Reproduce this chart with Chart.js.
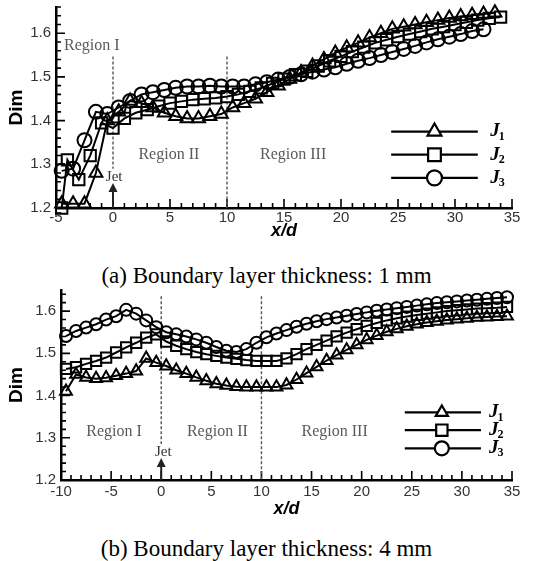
<!DOCTYPE html>
<html>
<head>
<meta charset="utf-8">
<script src="https://cdn.jsdelivr.net/npm/chart.js@4.4.0/dist/chart.umd.min.js"></script>
<style>
  body { margin: 0; background: #fff; width: 533px; height: 561px; position: relative; overflow: hidden; }
  canvas { position: absolute; left: 0; }
  .caption { position: absolute; left: 0; width: 533px; text-align: center; line-height: 24px;
             font-family: "Liberation Serif", "Times New Roman", serif; font-size: 23px; color: #000; }
</style>
</head>
<body>
<canvas id="chartA" width="533" height="248" style="top:0"></canvas>
<div class="caption" style="top:264px">(a) Boundary layer thickness: 1 mm</div>
<canvas id="chartB" width="533" height="240" style="top:283px"></canvas>
<div class="caption" style="top:537px">(b) Boundary layer thickness: 4 mm</div>
<script>
// ---- (a) 1 mm boundary layer ----
const topX = [-4.5, -3.5, -2.5, -1.5, -0.5, 0.5, 1.5, 2.5, 3.5, 4.5, 5.5, 6.5, 7.5, 8.5, 9.5,
  10.5, 11.5, 12.5, 13.5, 14.5, 15.5, 16.5, 17.5, 18.5, 19.5, 20.5, 21.5, 22.5, 23.5, 24.5,
  25.5, 26.5, 27.5, 28.5, 29.5, 30.5, 31.5, 32.5, 33.5];
const topJ1 = [1.21, 1.21, 1.21, 1.28, 1.40, 1.42, 1.445, 1.44, 1.43, 1.418, 1.41, 1.405, 1.405,
  1.41, 1.415, 1.43, 1.44, 1.45, 1.465, 1.48, 1.495, 1.51, 1.525, 1.54, 1.555, 1.567, 1.578,
  1.59, 1.60, 1.61, 1.615, 1.62, 1.625, 1.63, 1.635, 1.638, 1.641, 1.644, 1.647];
const topJ2X = [-4.5, -4, -3, -2, -1, 0, 1, 2, 3, 4, 5, 6, 7, 8, 9, 10, 11, 12, 13, 14, 15, 16,
  17, 18, 19, 20, 21, 22, 23, 24, 25, 26, 27, 28, 29, 30, 31, 32, 33, 34];
const topJ2 = [1.20, 1.31, 1.265, 1.32, 1.395, 1.383, 1.405, 1.418, 1.425, 1.433, 1.44, 1.444,
  1.448, 1.45, 1.452, 1.455, 1.46, 1.467, 1.475, 1.485, 1.495, 1.505, 1.513, 1.525, 1.537,
  1.547, 1.558, 1.568, 1.578, 1.585, 1.592, 1.598, 1.604, 1.61, 1.615, 1.62, 1.625, 1.63,
  1.634, 1.637];
const topJ3 = [1.285, 1.29, 1.355, 1.42, 1.415, 1.43, 1.445, 1.46, 1.465, 1.47, 1.475, 1.478,
  1.478, 1.48, 1.478, 1.478, 1.478, 1.483, 1.488, 1.494, 1.50, 1.506, 1.512, 1.517, 1.522,
  1.53, 1.537, 1.543, 1.55, 1.557, 1.564, 1.571, 1.579, 1.586, 1.592, 1.598, 1.605, 1.609];
const topXTicks = [-5, 0, 5, 10, 15, 20, 25, 30, 35];
const topYTicks = [1.2, 1.3, 1.4, 1.5, 1.6];

// ---- (b) 4 mm boundary layer ----
const bottomX = [-9.5, -8.5, -7.5, -6.5, -5.5, -4.5, -3.5, -2.5, -1.5, -0.5, 0.5, 1.5, 2.5,
  3.5, 4.5, 5.5, 6.5, 7.5, 8.5, 9.5, 10.5, 11.5, 12.5, 13.5, 14.5, 15.5, 16.5, 17.5, 18.5,
  19.5, 20.5, 21.5, 22.5, 23.5, 24.5, 25.5, 26.5, 27.5, 28.5, 29.5, 30.5, 31.5, 32.5, 33.5, 34.5];
const bottomJ1 = [1.41, 1.45, 1.443, 1.44, 1.442, 1.447, 1.452, 1.458, 1.488, 1.478,
  1.47, 1.46, 1.452, 1.443, 1.435, 1.428, 1.424, 1.421, 1.42, 1.42,
  1.42, 1.42, 1.425, 1.438, 1.453, 1.468, 1.483, 1.496, 1.508, 1.52,
  1.532, 1.542, 1.551, 1.558, 1.564, 1.569, 1.573, 1.576, 1.579, 1.581,
  1.583, 1.585, 1.586, 1.587, 1.588];
const bottomJ2 = [1.463, 1.467, 1.475, 1.482, 1.49, 1.502, 1.514, 1.525, 1.537, 1.545,
  1.528, 1.518, 1.51, 1.503, 1.498, 1.494, 1.49, 1.487, 1.484, 1.482,
  1.482, 1.482, 1.488, 1.498, 1.51, 1.52, 1.53, 1.54, 1.549, 1.557,
  1.565, 1.572, 1.578, 1.583, 1.587, 1.591, 1.594, 1.597, 1.6, 1.602,
  1.604, 1.606, 1.607, 1.608, 1.61];
const bottomJ3 = [1.541, 1.553, 1.561, 1.569, 1.58, 1.588, 1.603, 1.594, 1.578, 1.562,
  1.55, 1.545, 1.54, 1.533, 1.525, 1.515, 1.506, 1.503, 1.51, 1.525,
  1.538, 1.547, 1.555, 1.563, 1.57, 1.576, 1.581, 1.585, 1.589, 1.593,
  1.597, 1.601, 1.604, 1.607, 1.61, 1.613, 1.616, 1.619, 1.621, 1.623,
  1.625, 1.627, 1.629, 1.631, 1.633];
const bottomXTicks = [-10, -5, 0, 5, 10, 15, 20, 25, 30, 35];
const bottomYTicks = [1.2, 1.3, 1.4, 1.5, 1.6];

const seriesNames = ['J1', 'J2', 'J3'];
const shapes = ['triangle', 'rect', 'circle'];

const sans = '"Liberation Sans", Arial, sans-serif';
const serif = '"Liberation Serif", "Times New Roman", serif';

// inward ticks, region dividers, labels, jet arrow and the legend
const framePlugin = {
  id: 'frame',
  beforeDatasetsDraw(chart, args, f) {
    const { ctx, chartArea: a, scales: { x, y } } = chart;
    ctx.save();
    ctx.strokeStyle = '#000';
    ctx.lineWidth = 1.6;
    ctx.beginPath();
    for (let i = 0; x.min + i <= x.max; i++) {
      const v = x.min + i;
      const px = x.getPixelForValue(v);
      ctx.moveTo(px, a.bottom);
      ctx.lineTo(px, a.bottom - (v % 5 === 0 ? 9 : 5));
    }
    for (let i = 0; y.min + i * 0.02 <= y.max + 1e-9; i++) {
      const py = y.getPixelForValue(y.min + i * 0.02);
      ctx.moveTo(a.left, py);
      ctx.lineTo(a.left + (i % 5 === 0 ? 9 : 5), py);
    }
    ctx.stroke();

    ctx.strokeStyle = '#555';
    ctx.lineWidth = 1.4;
    ctx.setLineDash([3, 2]);
    f.dividers.forEach(d => {
      const px = x.getPixelForValue(d.x);
      ctx.beginPath();
      ctx.moveTo(px, y.getPixelForValue(d.from));
      ctx.lineTo(px, y.getPixelForValue(d.to));
      ctx.stroke();
    });
    ctx.setLineDash([]);

    ctx.fillStyle = '#5a5a5a';
    ctx.font = '16px ' + serif;
    ctx.textBaseline = 'middle';
    f.regions.forEach(r => {
      ctx.textAlign = r.align;
      ctx.fillText(r.text, x.getPixelForValue(r.x), y.getPixelForValue(r.y));
    });

    // jet inlet marker
    const jx = x.getPixelForValue(0);
    const tip = y.getPixelForValue(f.jet.tip);
    ctx.fillStyle = '#333';
    ctx.font = '15px ' + serif;
    ctx.textAlign = 'center';
    ctx.fillText('Jet', x.getPixelForValue(f.jet.textX), y.getPixelForValue(f.jet.textY));
    ctx.strokeStyle = '#222';
    ctx.lineWidth = 2;
    ctx.beginPath();
    ctx.moveTo(jx, a.bottom);
    ctx.lineTo(jx, tip + 6);
    ctx.stroke();
    ctx.fillStyle = '#222';
    ctx.beginPath();
    ctx.moveTo(jx, tip);
    ctx.lineTo(jx - 4.5, tip + 9);
    ctx.lineTo(jx + 4.5, tip + 9);
    ctx.closePath();
    ctx.fill();
    ctx.restore();
  },
  afterDatasetsDraw(chart, args, f) {
    const { ctx, scales: { x, y } } = chart;
    const lg = f.legend;
    ctx.save();
    chart.data.datasets.forEach((ds, i) => {
      const py = y.getPixelForValue(lg.rows[i]);
      ctx.strokeStyle = '#000';
      ctx.lineWidth = 2.2;
      ctx.beginPath();
      ctx.moveTo(x.getPixelForValue(lg.x0), py);
      ctx.lineTo(x.getPixelForValue(lg.x1), py);
      ctx.stroke();
      ctx.fillStyle = '#fff';
      ctx.lineWidth = 2.2;
      Chart.helpers.drawPoint(ctx, { pointStyle: ds.pointStyle, radius: lg.r[i], rotation: 0, borderWidth: 2.2 },
        x.getPixelForValue(lg.xm), py);
      const tx = x.getPixelForValue(lg.xt);
      ctx.fillStyle = '#000';
      ctx.textAlign = 'left';
      ctx.textBaseline = 'middle';
      ctx.font = 'italic bold 19px ' + serif;
      ctx.fillText('J', tx, py);
      const w = ctx.measureText('J').width;
      ctx.font = 'bold 12px ' + serif;
      ctx.fillText(ds.label.slice(1), tx + w - 1, py + 5);
    });
    ctx.restore();
  }
};

function buildChart(id, spec) {
  const datasets = spec.series.map((ys, i) => ({
    label: seriesNames[i],
    data: ys.map((v, k) => ({ x: spec.xs[i][k], y: v })),
    showLine: true,
    borderColor: '#000',
    borderWidth: 2,
    pointStyle: shapes[i],
    pointRadius: spec.radius[i],
    pointHoverRadius: spec.radius[i],
    pointBorderColor: '#000',
    pointBorderWidth: 2,
    pointBackgroundColor: 'rgba(255,255,255,0)',
    clip: false
  }));
  return new Chart(document.getElementById(id), {
    type: 'scatter',
    data: { datasets },
    options: {
      responsive: false,
      animation: false,
      devicePixelRatio: 1,
      events: [],
      layout: { autoPadding: false, padding: { left: 0, right: 21, top: 7, bottom: 0 } },
      plugins: { legend: { display: false }, tooltip: { enabled: false }, frame: spec.frame },
      scales: {
        x: {
          type: 'linear', min: spec.xMin, max: spec.xMax,
          afterBuildTicks: sc => { sc.ticks = spec.xTicks.map(v => ({ value: v })); },
          afterFit: sc => { sc.height = spec.xAxisHeight; sc.paddingLeft = 0; sc.paddingRight = 0; },
          grid: { display: false, drawTicks: false },
          border: { display: true, color: '#000', width: 2.5 },
          ticks: { color: '#333', font: { family: sans, size: 15 }, padding: spec.xLabelPad,
                   maxRotation: 0, autoSkip: false, callback: v => String(v) },
          title: { display: true, text: 'x/d', color: '#000',
                   font: { family: sans, size: 18, weight: 'bold', style: 'italic' },
                   padding: { top: 0, bottom: spec.xTitlePad } }
        },
        y: {
          type: 'linear', min: spec.yMin, max: spec.yMax,
          afterBuildTicks: sc => { sc.ticks = spec.yTicks.map(v => ({ value: v })); },
          afterFit: sc => { sc.width = spec.yAxisWidth; sc.paddingTop = 0; sc.paddingBottom = 0; },
          grid: { display: false, drawTicks: false },
          border: { display: true, color: '#000', width: 2.5 },
          ticks: { color: '#333', font: { family: sans, size: 15 }, padding: 5,
                   callback: v => v.toFixed(1) },
          title: { display: true, text: 'Dim', color: '#000',
                   font: { family: sans, size: 19, weight: 'bold' },
                   padding: { top: 5, bottom: 0 } }
        }
      }
    },
    plugins: [framePlugin]
  });
}

buildChart('chartA', {
  xs: [topX, topJ2X, topX],
  series: [topJ1, topJ2, topJ3],
  radius: [7.5, 8, 7],
  xMin: -5, xMax: 35, yMin: 1.2, yMax: 1.66,
  xTicks: topXTicks, yTicks: topYTicks,
  yAxisWidth: 56, xAxisHeight: 40, xLabelPad: 1, xTitlePad: 6,
  frame: {
    dividers: [{ x: 0, from: 1.547, to: 1.29 }, { x: 10, from: 1.547, to: 1.2 }],
    regions: [
      { text: 'Region I', x: -4.3, y: 1.572, align: 'left' },
      { text: 'Region II', x: 4.9, y: 1.322, align: 'center' },
      { text: 'Region III', x: 15.8, y: 1.322, align: 'center' }
    ],
    jet: { textX: 0.1, textY: 1.271, tip: 1.257 },
    legend: { x0: 24.4, x1: 32.0, xm: 28.2, xt: 33.1, rows: [1.375, 1.322, 1.269], r: [8, 9, 7.5] }
  }
});

buildChart('chartB', {
  xs: [bottomX, bottomX, bottomX],
  series: [bottomJ1, bottomJ2, bottomJ3],
  radius: [6.8, 7.3, 6],
  xMin: -10, xMax: 35, yMin: 1.2, yMax: 1.65,
  xTicks: bottomXTicks, yTicks: bottomYTicks,
  yAxisWidth: 61, xAxisHeight: 43, xLabelPad: 3, xTitlePad: 3,
  frame: {
    dividers: [{ x: 0, from: 1.635, to: 1.285 }, { x: 10, from: 1.635, to: 1.2 }],
    regions: [
      { text: 'Region I', x: -4.7, y: 1.315, align: 'center' },
      { text: 'Region II', x: 5.6, y: 1.315, align: 'center' },
      { text: 'Region III', x: 17.3, y: 1.315, align: 'center' }
    ],
    jet: { textX: 0.2, textY: 1.266, tip: 1.252 },
    legend: { x0: 24.3, x1: 31.9, xm: 28.0, xt: 32.7, rows: [1.36, 1.318, 1.275], r: [7, 8, 7] }
  }
});
</script>
</body>
</html>
